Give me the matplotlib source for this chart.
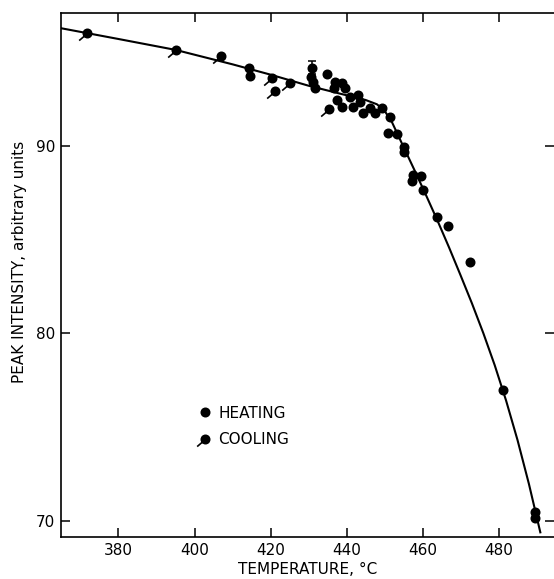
import matplotlib
matplotlib.use("Agg")
import numpy as np
from matplotlib import pyplot as plt
from matplotlib.path import Path

# smooth fitted curve
curve_temp = [365, 380, 395, 410, 420, 430, 440, 445, 448, 450, 452, 455,
              458, 461, 464, 467, 470, 473, 476, 479, 482, 485, 488, 491]
curve_int = [96.27, 95.70, 95.12, 94.35, 93.80, 93.21, 92.70, 92.45, 92.22,
             91.88, 91.25, 89.95, 88.66, 87.34, 85.99, 84.58, 83.11, 81.61,
             80.02, 78.31, 76.42, 74.32, 71.98, 69.40]

# heating runs
heat_temp = [414.4, 414.6, 431.0, 430.6, 431.3, 431.7, 434.8, 437.0, 438.8,
             436.6, 439.6, 437.4, 438.8, 440.9, 441.8, 443.1, 443.6, 444.4,
             446.2, 447.5, 449.3, 451.5, 451.0, 453.2, 455.0, 455.2, 457.6,
             457.2, 459.6, 460.2, 463.7, 466.8, 472.5, 481.2, 489.5, 489.7]
heat_int = [94.13, 93.74, 94.18, 93.69, 93.42, 93.07, 93.83, 93.42, 93.37,
            93.07, 93.07, 92.45, 92.09, 92.62, 92.09, 92.71, 92.36, 91.73,
            92.00, 91.73, 92.00, 91.56, 90.67, 90.62, 89.96, 89.66, 88.46,
            88.13, 88.37, 87.65, 86.22, 85.73, 83.79, 77.00, 70.50, 70.15]

# cooling runs
cool_temp = [371.7, 395.2, 407.0, 420.3, 421.2, 425.0, 435.5]
cool_int = [96.03, 95.10, 94.80, 93.63, 92.94, 93.33, 91.95]

# single error bar
err_temp = [431.0]
err_int = [94.18]
err_size = [0.35]

plt.rcParams['font.family'] = ['DejaVu Sans']

# circle with a short tail to the lower left for the cooling symbol
circle = Path.unit_circle()
verts = np.concatenate([circle.vertices, [[-0.6, -0.5], [-2.0, -1.7]]])
codes = np.concatenate([circle.codes, [Path.MOVETO, Path.LINETO]])
cool_marker = Path(verts, codes)

fig = plt.figure(figsize=(5.54, 5.79), dpi=100)
ax = fig.add_axes([0.111, 0.0725, 0.889, 0.9055])

ax.plot(curve_temp, curve_int, color='black', lw=1.5, zorder=2)
ax.errorbar(err_temp, err_int, yerr=err_size, fmt='none', ecolor='black',
            elinewidth=1.1, capsize=3, capthick=1.1, zorder=3)
ax.plot(heat_temp, heat_int, ls='none', marker='o', ms=6.0, mew=1.2,
        mfc='black', mec='black', label='HEATING', zorder=4)
ax.plot(cool_temp, cool_int, ls='none', marker=cool_marker, ms=12.0, mew=1.2,
        mfc='black', mec='black', label='COOLING', zorder=4)

ax.set_xlim(365, 494.6)
ax.set_ylim(69.15, 97.1)
ax.set_xticks([380, 400, 420, 440, 460, 480])
ax.set_yticks([70, 80, 90])

ax.spines['right'].set_visible(False)
for s in ['left', 'bottom', 'top']:
    ax.spines[s].set_linewidth(1.2)

ax.tick_params(axis='both', direction='in', length=6.5, width=1.1,
               labelsize=11, pad=4.5, top=True, right=True)

ax.set_xlabel('TEMPERATURE, °C', fontsize=11, labelpad=3)
ax.set_ylabel('PEAK INTENSITY, arbitrary units', fontsize=11)
ax.yaxis.set_label_coords(-0.07, 0.5245)

ax.legend(loc='center left', bbox_to_anchor=(0.276, 0.211), frameon=False,
          borderaxespad=0, borderpad=0, handlelength=1.0, handletextpad=0.35,
          labelspacing=0.75, fontsize=11, numpoints=1)

fig.savefig('out.png', dpi=100)
